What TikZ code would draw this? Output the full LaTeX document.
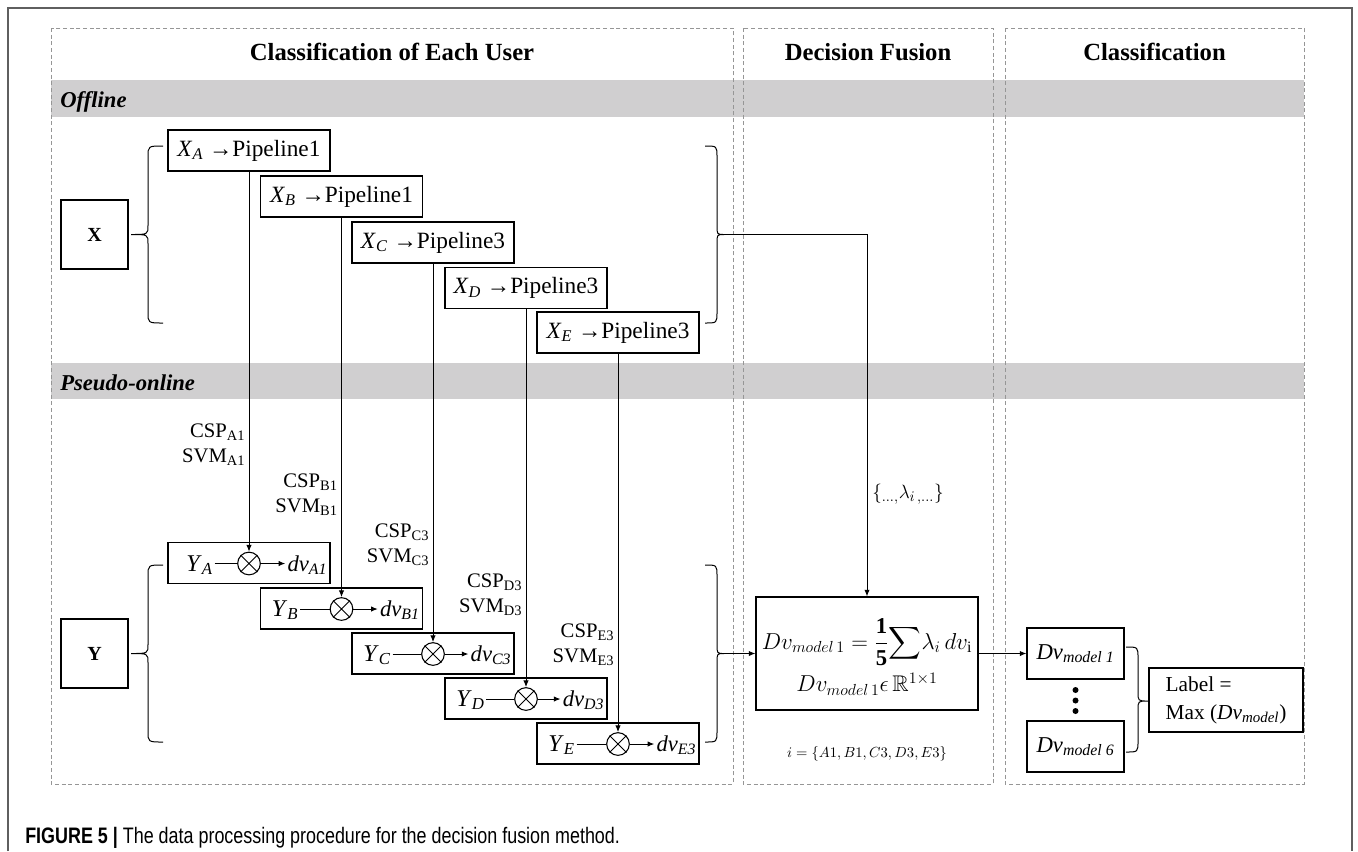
\documentclass[tikz,border=0pt]{standalone}
\usepackage{amsmath,amssymb}
\usepackage{fontspec}
\setmainfont{Liberation Serif}
\newfontfamily\capfont{Liberation Sans}
\usetikzlibrary{arrows.meta,calc}
\definecolor{bandgray}{RGB}{208,207,208}
\definecolor{dashgray}{RGB}{150,150,150}
\definecolor{framegray}{RGB}{95,95,95}
\newcommand\fs[2]{\fontsize{#1}{#2}\selectfont}
\newcommand\sbx[2]{\textit{#1}\textsubscript{\textit{#2}}}
\newcommand\Brc[6]{\draw[brace] (#1,#4) .. controls (#2,#4) .. (#2,#4+11) -- (#2,#5-9) .. controls (#2,#5) .. (#3,#5) .. controls (#2,#5) .. (#2,#5+9) -- (#2,#6-11) .. controls (#2,#6) .. (#1,#6);}
\begin{document}
\begin{tikzpicture}[x=0.75pt,y=-0.75pt,
 panel/.style={draw=dashgray, line width=0.6pt, dash pattern=on 3pt off 2pt},
 band/.style={fill=bandgray},
 hdr/.style={font=\fs{18.5}{22}\bfseries, inner sep=0},
 bandlbl/.style={font=\fs{17}{20}\bfseries\itshape, inner sep=0, anchor=base west},
 pbox/.style={draw, line width=0.8pt, minimum width=121.5pt, minimum height=30.75pt, inner sep=0, font=\fs{17.5}{21}},
 ybox/.style={draw, line width=0.8pt, minimum width=121.5pt, minimum height=30.75pt, inner sep=0},
 bigbox/.style={draw, line width=0.8pt, minimum width=50.25pt, minimum height=51.75pt, inner sep=0, font=\fs{15}{18}\bfseries},
 otimes/.style={draw, circle, line width=0.8pt, minimum size=17pt, inner sep=0},
 lbl/.style={inner sep=0, font=\fs{15.5}{18.75}, align=right, anchor=east},
 arr/.style={line width=0.75pt, -{Latex[length=5pt,width=4pt]}},
 ln/.style={line width=0.75pt},
 brace/.style={line width=0.75pt},
 rbox/.style={draw, line width=0.8pt, minimum width=72.75pt, minimum height=38.25pt, inner sep=0, font=\fs{17}{20}},
 dotn/.style={circle, fill, inner sep=0, minimum size=4.5pt}
]
\useasboundingbox (0,0) rectangle (1358,851);
\fill[white] (0,0) rectangle (1358,851);
% outer frame
\draw[draw=framegray, line width=1.1pt] (8,851) -- (8,8) -- (1352,8) -- (1352,851);
% bands
\fill[band] (51,80) rectangle (1304,117);
\fill[band] (51,363) rectangle (1304,399);
% panels
\draw[panel] (51,28) rectangle (733,784);
\draw[panel] (743,28) rectangle (993,784);
\draw[panel] (1005,28) rectangle (1304,784);
% headers
\node[hdr] (h1) at (392,52) {Classification of Each User};
\node[hdr] (h2) at (868,52) {Decision Fusion};
\node[hdr] (h3) at (1154.5,52) {Classification};
\node[bandlbl] (off) at (60,107) {Offline};
\node[bandlbl] (pso) at (60,390) {Pseudo-online};
% X and Y boxes
\node[bigbox] (X) at (94.5,234.5) {X};
\node[bigbox] (Y) at (94.5,653.5) {Y};
% braces
\Brc{163}{148}{131}{146}{234.5}{323}
\Brc{163}{148}{131}{565}{653.5}{742}
\Brc{705}{717}{724}{146}{234.5}{323}
\Brc{705}{717}{724}{565}{653.5}{742}
\coordinate (xtip) at (724,234.5);
\coordinate (ytip) at (724,653.5);
% Y rows
\foreach \n/\L/\cx/\cy/\off/\s in {a/A/249/563/17/A1, b/B/341.5/608.5/10/B1, c/C/433/653.5/10/C3, d/D/526/698.5/10/D3, e/E/618/743.5/10/E3}{
 \node[ybox] (y\n) at (\cx,\cy) {};
 \node[otimes] (o\n) at (\cx,\cy+0.5) {};
 \draw[ln] (o\n.north west) -- (o\n.south east) (o\n.north east) -- (o\n.south west);
 \node[anchor=base west, inner sep=1.2pt, font=\fs{18}{21}] (yl\n) at ($(y\n.west)+(\off,8)$) {\sbx{Y}{\L}};
 \node[anchor=base east, inner sep=1.5pt, font=\fs{17}{20}] (dl\n) at ($(y\n.east)+(-1,8)$) {\sbx{dv}{\s}};
 \draw[ln] (yl\n.east |- o\n.west) -- (o\n.west);
 \draw[arr] (o\n.east) -- (dl\n.west |- o\n.east);
}
% X pipeline boxes
\foreach \n/\L/\cx/\cy/\k in {a/A/249/150.5/1, b/B/341.5/196.5/1, c/C/433/242.5/3, d/D/526/288/3, e/E/618/332.5/3}{
 \node[pbox] (x\n) at (\cx,\cy) {\sbx{X}{\L} →Pipeline\k};
 \draw[arr] (x\n.south) -- (o\n.north);
}
% CSP / SVM labels
\foreach \n/\s/\cx/\cy in {a/A1/249/444.5, b/B1/341.5/494.5, c/C3/433/544.5, d/D3/526/594.5, e/E3/618/644.5}{
 \node[lbl] (c\n) at (\cx-3.5,\cy) {CSP\textsubscript{\s}\\SVM\textsubscript{\s}};
}
% decision fusion
\node[draw, line width=0.8pt, minimum width=166.5pt, minimum height=84.75pt] (dv) at (867,653.5) {};
\node[inner sep=0, font=\fs{17}{20}] (dvl1) at (867,642) {$Dv_{model\,1} = \dfrac{\mathbf{1}}{\mathbf{5}}{\displaystyle\sum} \lambda_i\, dv_{\mathrm{i}}$};
\node[inner sep=0, font=\fs{17}{20}] (dvl2) at (867,684) {$Dv_{model\,1}\epsilon\, \mathbb{R}^{1\times 1}$};
\node[inner sep=0, font=\fs{11}{13}] (iset) at (867,754) {$i=\{A1,B1,C3,D3,E3\}$};
\node[anchor=west, inner sep=0, font=\fs{15}{18}] (lam) at (872,494) {$\{{}_{\ldots,}\lambda_{i\,,\ldots}\}$};
\draw[arr] (xtip) -| (dv.north);
\draw[arr] (ytip) -- (dv.west);
% classification
\node[rbox] (m1) at (1075.5,653.5) {\sbx{Dv}{model 1}};
\node[rbox] (m6) at (1075.5,746.5) {\sbx{Dv}{model 6}};
\node[dotn] (d1) at (1075.5,690) {};
\node[dotn] (d2) at (1075.5,700.5) {};
\node[dotn] (d3) at (1075.5,711) {};
\Brc{1126}{1138}{1148}{647}{701}{752}
\node[draw, line width=0.8pt, minimum width=115.5pt, minimum height=48pt, align=left, font=\fs{16}{21}] (lab) at (1226,700) {Label =\\Max (\sbx{Dv}{model})};
\draw[arr] (dv.east) -- (m1.west);
% caption
\node[anchor=base west, inner sep=0, font=\capfont\fs{16.8}{20}] (cap) at (25,843) {\scalebox{0.8}[1]{\textbf{FIGURE 5 |} The data processing procedure for the decision fusion method.}};
\end{tikzpicture}
\end{document}
